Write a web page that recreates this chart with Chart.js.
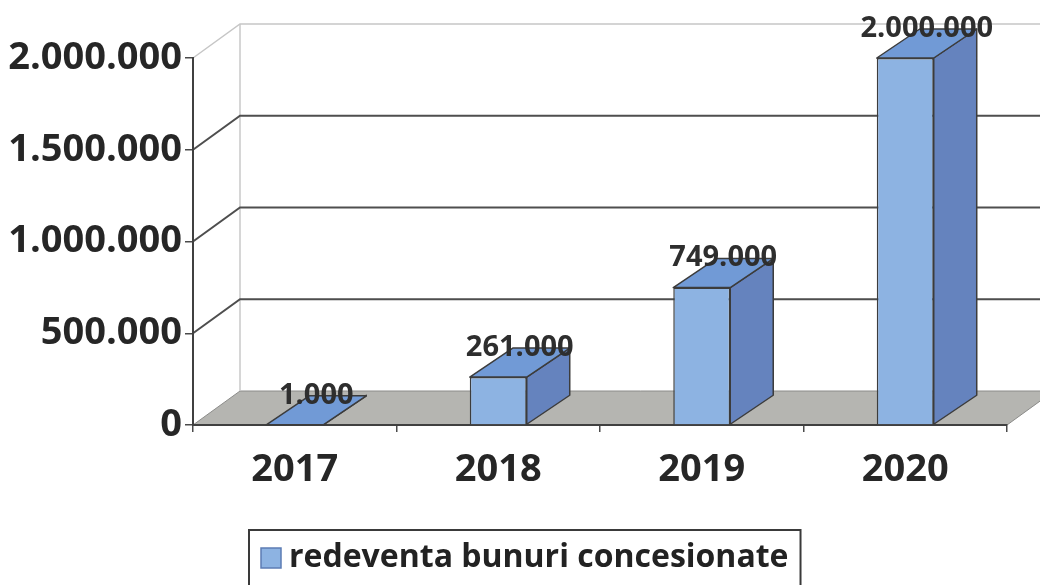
<!DOCTYPE html>
<html>
<head>
<meta charset="utf-8">
<script src="https://cdn.jsdelivr.net/npm/chart.js@4.4.1/dist/chart.umd.min.js"></script>
<style>
  html, body { margin: 0; padding: 0; background: #ffffff; }
  #wrap { width: 1040px; height: 585px; }
</style>
</head>
<body>
<div id="wrap"><canvas id="c" width="1040" height="585"></canvas></div>
<script>
// Revenue from conceded assets, per year
const years = ['2017', '2018', '2019', '2020'];
const redevente = [1000, 261000, 749000, 2000000];
const seriesName = 'redeventa bunuri concesionate';
const yTicks = [0, 500000, 1000000, 1500000, 2000000];

const FONT = "'Open Sans', 'DejaVu Sans', sans-serif";
const WALL = { dx: 47, dy: -34 };   // depth of the floor / back wall
const BAR = { dx: 43, dy: -29 };    // depth of each column

const fmt = n => String(Math.round(n)).replace(/\B(?=(\d{3})+(?!\d))/g, '.');

function poly(ctx, pts, fill) {
  ctx.beginPath();
  ctx.moveTo(pts[0][0], pts[0][1]);
  for (let i = 1; i < pts.length; i++) ctx.lineTo(pts[i][0], pts[i][1]);
  ctx.closePath();
  ctx.fillStyle = fill;
  ctx.fill();
  ctx.stroke();
}

// Walls, floor and back gridlines of the 3-D box
const scene3d = {
  id: 'scene3d',
  beforeDraw(chart) {
    const { ctx, chartArea: a, scales: { y } } = chart;
    const W = chart.width;
    const base = y.getPixelForValue(0);
    const top = y.getPixelForValue(y.max);
    ctx.save();
    // floor
    ctx.lineWidth = 1;
    ctx.strokeStyle = '#8c8c8a';
    poly(ctx, [[a.left, base], [a.right, base], [a.right + WALL.dx, base + WALL.dy], [a.left + WALL.dx, base + WALL.dy]], '#b5b5b1');
    // back wall left edge
    ctx.strokeStyle = '#c8c8c8';
    ctx.lineWidth = 1.5;
    ctx.beginPath();
    ctx.moveTo(a.left + WALL.dx, top + WALL.dy);
    ctx.lineTo(a.left + WALL.dx, base + WALL.dy);
    ctx.stroke();
    // gridlines across the side wall and back wall
    yTicks.forEach(v => {
      if (v === 0) return;
      const py = y.getPixelForValue(v);
      ctx.strokeStyle = v === y.max ? '#c6c6c6' : '#4e4e4e';
      ctx.lineWidth = v === y.max ? 1.5 : 2;
      ctx.beginPath();
      ctx.moveTo(a.left, py);
      ctx.lineTo(a.left + WALL.dx, py + WALL.dy);
      ctx.lineTo(W + 5, py + WALL.dy);
      ctx.stroke();
    });
    ctx.restore();
  },
  afterDatasetsDraw(chart) {
    const { ctx } = chart;
    const meta = chart.getDatasetMeta(0);
    const values = chart.data.datasets[0].data;
    ctx.save();
    ctx.lineJoin = 'round';
    ctx.lineWidth = 1.5;
    ctx.strokeStyle = '#3c3c3c';
    meta.data.forEach(bar => {
      const { x, y: ty, base, width } = bar.getProps(['x', 'y', 'base', 'width'], true);
      const l = x - width / 2, r = x + width / 2;
      poly(ctx, [[r, ty], [r + BAR.dx, ty + BAR.dy], [r + BAR.dx, base + BAR.dy], [r, base]], '#6583be');
      poly(ctx, [[l, ty], [r, ty], [r + BAR.dx, ty + BAR.dy], [l + BAR.dx, ty + BAR.dy]], '#719ad6');
    });
    // value labels above each column
    ctx.font = 'bold 29px ' + FONT;
    ctx.fillStyle = '#2e2e2e';
    ctx.textAlign = 'center';
    ctx.textBaseline = 'middle';
    meta.data.forEach((bar, i) => {
      const { x, y: ty } = bar.getProps(['x', 'y'], true);
      ctx.fillText(fmt(values[i]), x + BAR.dx / 2, ty + BAR.dy / 2 - 15);
    });
    ctx.restore();
  },
  afterDraw(chart) {
    // boxed legend under the axis
    const { ctx } = chart;
    const label = chart.data.datasets[0].label;
    ctx.save();
    ctx.font = 'bold 32px ' + FONT;
    const tw = ctx.measureText(label).width;
    const sw = 20, gap = 8, padX = 12;
    const boxW = padX + sw + gap + tw + padX;
    const bx = Math.round(chart.width / 2 - boxW / 2 + 5);
    const by = 530;
    ctx.lineWidth = 2;
    ctx.strokeStyle = '#3a3a3a';
    ctx.strokeRect(bx, by, boxW, 70);
    ctx.fillStyle = '#8db3e2';
    ctx.lineWidth = 1.5;
    ctx.strokeStyle = '#5c7cb4';
    ctx.fillRect(bx + padX, 548, sw, sw);
    ctx.strokeRect(bx + padX, 548, sw, sw);
    ctx.fillStyle = '#222222';
    ctx.textAlign = 'left';
    ctx.textBaseline = 'middle';
    ctx.fillText(label, bx + padX + sw + gap, 558);
    ctx.restore();
  }
};

new Chart(document.getElementById('c'), {
  type: 'bar',
  data: {
    labels: years,
    datasets: [{
      label: seriesName,
      data: redevente,
      backgroundColor: '#8db3e2',
      borderColor: '#3c3c3c',
      borderWidth: 1.5,
      barPercentage: 0.28,
      categoryPercentage: 1
    }]
  },
  options: {
    responsive: false,
    animation: false,
    layout: { padding: { top: 58, right: 33, bottom: 55, left: 0 } },
    plugins: { legend: { display: false }, tooltip: { enabled: false } },
    scales: {
      x: {
        offset: true,
        afterFit(scale) { scale.height = 105; },
        grid: { offset: true, drawOnChartArea: false, tickLength: 7, color: '#4a4a4a', lineWidth: 1.5 },
        border: { color: '#404040', width: 2 },
        ticks: { maxRotation: 0, padding: 15, color: '#262626', font: { family: FONT, size: 38, weight: 'bold' } }
      },
      y: {
        min: 0,
        max: 2000000,
        afterFit(scale) { scale.width = 193; },
        afterBuildTicks(scale) { scale.ticks = yTicks.map(v => ({ value: v })); },
        grid: { drawOnChartArea: false, tickLength: 8, color: '#4a4a4a', lineWidth: 1.5 },
        border: { color: '#404040', width: 2 },
        ticks: {
          padding: 3,
          color: '#262626',
          font: { family: FONT, size: 38, weight: 'bold' },
          callback: v => fmt(v)
        }
      }
    }
  },
  plugins: [scene3d]
});
</script>
</body>
</html>
